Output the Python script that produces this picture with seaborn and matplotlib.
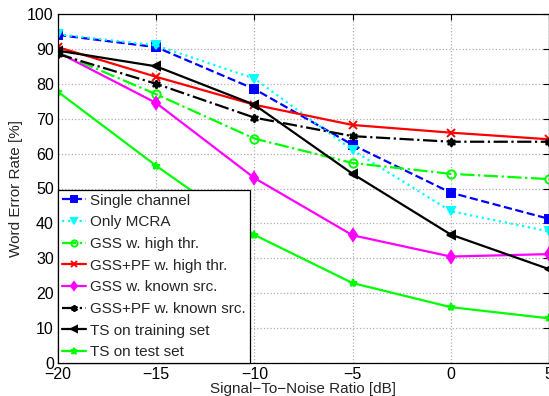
import numpy as np
import pandas as pd
import seaborn as sns
import matplotlib.pyplot as plt

# Data
snr = [-20, -15, -10, -5, 0, 5]
single_channel = [94.0, 90.5, 78.5, 62.5, 48.8, 41.3]
only_mcra = [94.2, 91.0, 81.5, 61.0, 43.5, 37.7]
gss_high = [89.0, 77.0, 64.3, 57.3, 54.2, 52.7]
gsspf_high = [90.5, 82.0, 74.0, 68.2, 66.0, 64.1]
gss_known = [89.0, 74.5, 53.0, 36.6, 30.5, 31.2]
gsspf_known = [88.5, 80.0, 70.3, 65.0, 63.4, 63.4]
ts_train = [89.5, 85.0, 74.0, 54.2, 36.8, 26.9]
ts_test = [77.7, 56.5, 36.7, 22.9, 16.0, 12.8]

sns.set_style("white")
plt.rcParams["font.family"] = ["Liberation Sans", "DejaVu Sans"]
plt.rcParams["font.size"] = 11

fig = plt.figure(figsize=(5.49, 3.96), dpi=100)
ax = fig.add_axes([58 / 549, 33 / 396, 491 / 549, 349 / 396])

hexagram = (6, 1, 0)
series = [
    ("Single channel", single_channel, "#0000ff", "--", "s", "full"),
    ("Only MCRA", only_mcra, "#00ffff", ":", "v", "full"),
    ("GSS w. high thr.", gss_high, "#00ff00", "-.", "o", "none"),
    ("GSS+PF w. high thr.", gsspf_high, "#ff0000", "-", "x", "full"),
    ("GSS w. known src.", gss_known, "#ff00ff", "-", "d", "full"),
    ("GSS+PF w. known src.", gsspf_known, "#000000", "-.", hexagram, "full"),
    ("TS on training set", ts_train, "#000000", "-", "<", "full"),
    ("TS on test set", ts_test, "#00ff00", "-", "*", "full"),
]

for name, vals, col, ls, mk, fill in series:
    sns.lineplot(x=snr, y=vals, ax=ax, label=name, color=col, linestyle=ls,
                 marker=mk, markersize=6, linewidth=1.6, fillstyle=fill,
                 markeredgecolor=col, markeredgewidth=1.4)

ax.set_xlim(-20, 5)
ax.set_ylim(0, 100)
ax.set_xticks(np.arange(-20, 6, 5))
ax.set_yticks(np.arange(0, 101, 10))
ax.set_xticklabels(["\u221220", "\u221215", "\u221210", "\u22125", "0", "5"])
ax.grid(True, linestyle=":", color="#b0b0b0", linewidth=0.9)
ax.tick_params(direction="in", top=True, right=True, length=4, labelsize=11.5,
               colors="black", pad=3)
for s in ax.spines.values():
    s.set_color("black")
    s.set_linewidth(0.9)

ax.set_xlabel("Signal\u2212To\u2212Noise Ratio [dB]", fontsize=11, labelpad=0)
ax.set_ylabel("Word Error Rate [%]", fontsize=11, labelpad=3)

leg = ax.legend(loc="lower left", borderaxespad=0, fancybox=False,
                edgecolor="black", framealpha=1, fontsize=11,
                handlelength=1.6, handletextpad=0.25, labelspacing=0.5,
                borderpad=0.25, markerscale=0.75)
leg.get_frame().set_linewidth(0.9)

fig.savefig("out.png", dpi=100)
